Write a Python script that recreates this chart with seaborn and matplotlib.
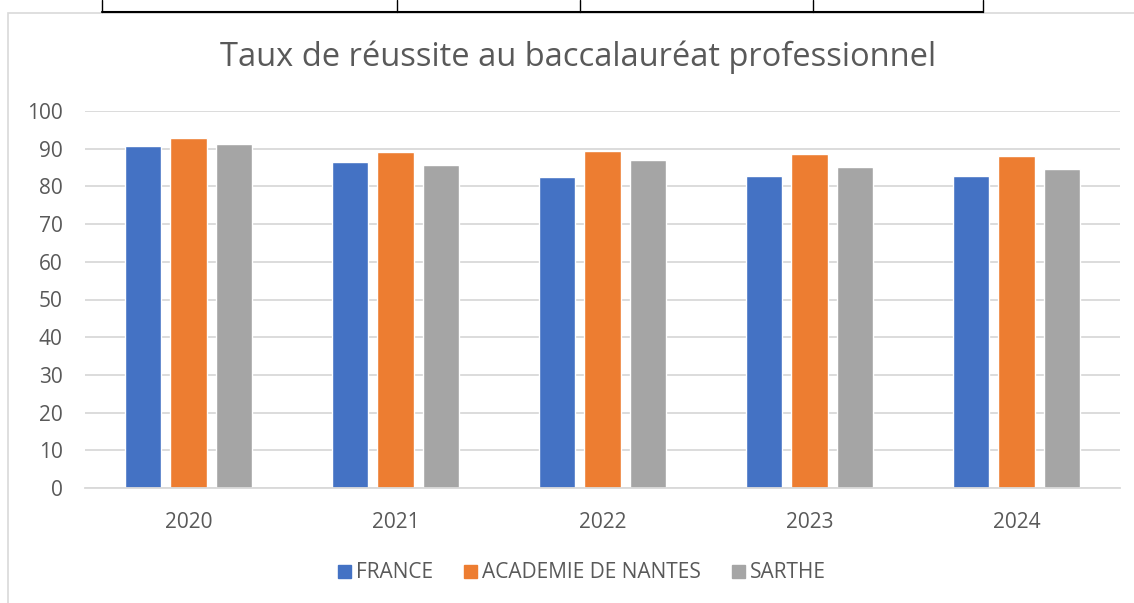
import matplotlib
matplotlib.use("Agg")
import matplotlib.pyplot as plt
from matplotlib.lines import Line2D
from matplotlib.patches import Rectangle
import pandas as pd
import seaborn as sns

# data
years = ["2020", "2021", "2022", "2023", "2024"]
france = [90.8, 86.6, 82.4, 82.8, 82.8]
nantes = [92.8, 89.1, 89.4, 88.7, 88.0]
sarthe = [91.2, 85.6, 87.1, 85.2, 84.6]
series = ["FRANCE", "ACADEMIE DE NANTES", "SARTHE"]
colors = ["#4472C4", "#ED7D31", "#A5A5A5"]

rows = []
for name, vals in zip(series, [france, nantes, sarthe]):
    for y, v in zip(years, vals):
        rows.append((y, name, v))
df = pd.DataFrame(rows, columns=["annee", "zone", "taux"])

sns.set_theme(style="white")
plt.rcParams["font.family"] = ["Open Sans", "DejaVu Sans"]
txt = "#595959"
grid = "#D9D9D9"

W, H = 1134, 603
fig = plt.figure(figsize=(W / 100, H / 100), dpi=100)

# chart frame and the bit of table above it
fig.add_artist(Rectangle((8 / W, -0.1), 1.2, 1 - 13 / H + 0.1, transform=fig.transFigure,
                         fill=False, edgecolor=grid, linewidth=1.2))
fig.add_artist(Line2D([102 / W, 983 / W], [1 - 12 / H] * 2, transform=fig.transFigure,
                      color="black", linewidth=1.5))
for x in [102, 397, 580, 813, 983]:
    fig.add_artist(Line2D([x / W] * 2, [1 - 12 / H, 1], transform=fig.transFigure,
                          color="black", linewidth=1))

ax = fig.add_axes([85 / W, 1 - 488 / H, (1120 - 85) / W, (488 - 111) / H])
sns.barplot(data=df, x="annee", y="taux", hue="zone", palette=colors,
            width=0.66, gap=0.2, saturation=1, ax=ax, legend=False)

ax.set_ylim(0, 100)
ax.set_yticks(range(0, 101, 10))
ax.set_xlim(-0.5, 4.5)
ax.set_xlabel("")
ax.set_ylabel("")
ax.yaxis.grid(True, color=grid, linewidth=1.3)
ax.set_axisbelow(True)
for s in ["left", "right", "top"]:
    ax.spines[s].set_visible(False)
ax.spines["bottom"].set_color(grid)
ax.spines["bottom"].set_linewidth(1.3)
ax.tick_params(axis="both", length=0, labelsize=15, labelcolor=txt)
ax.tick_params(axis="x", pad=17)
ax.tick_params(axis="y", pad=16)

fig.text(578 / W, 1 - 57 / H, "Taux de réussite au baccalauréat professionnel",
         ha="center", va="center", fontsize=23.5, color=txt)

handles = [Rectangle((0, 0), 1, 1, color=c) for c in colors]
fig.legend(handles, series, loc="center", bbox_to_anchor=(582 / W, 1 - 573 / H), ncol=3,
           frameon=False, fontsize=15, labelcolor=txt, handlelength=0.6, handleheight=0.6,
           handletextpad=0.25, columnspacing=1.5)

fig.savefig("out.png", dpi=100)
